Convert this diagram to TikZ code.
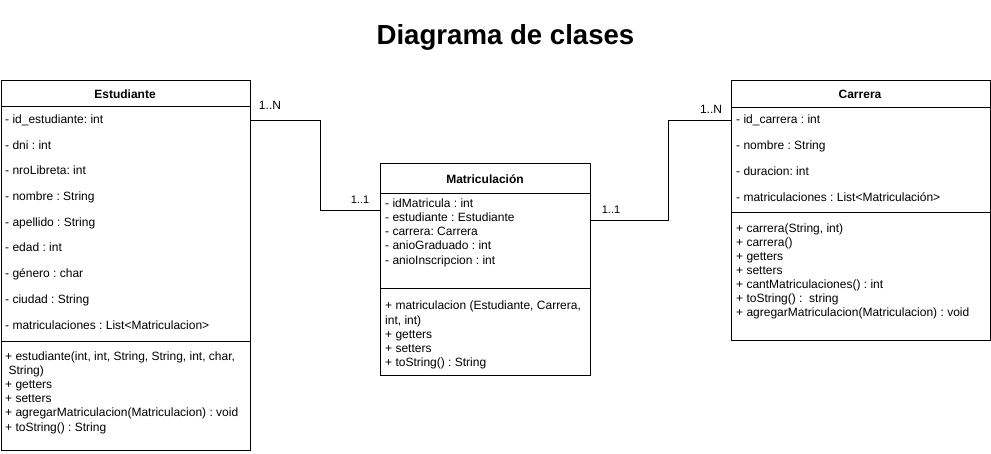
\documentclass[tikz,border=0pt]{standalone}
\usepackage{fontspec}
\setmainfont{Liberation Sans}
\usetikzlibrary{positioning}
\frenchspacing
\tikzset{
  classbox/.style={draw, line width=0.9pt, inner sep=0pt, anchor=north west},
  classname/.style={font=\fontsize{12}{14}\selectfont\bfseries, inner sep=0pt},
  member/.style={anchor=base west, inner sep=0pt, font=\fontsize{12}{14}\selectfont},
  mult/.style={inner sep=0pt, font=\fontsize{12}{14}\selectfont},
  link/.style={line width=0.9pt}
}
\begin{document}
\begin{tikzpicture}[x=1pt, y=-1pt]
\useasboundingbox (0,0) rectangle (991,453);
\node[font=\fontsize{27.6}{32}\selectfont\bfseries] (title) at (505.5,37) {Diagrama de clases};

% Estudiante
\node[classbox, minimum width=249.5pt, minimum height=370pt] (est) at (0.5,80) {};
\node[classname] (estname) at (125,94) {Estudiante};
\draw (0.5,106) -- (250,106);
\node[member] (ea1) at (5,123) {- id\_estudiante: int};
\node[member] (ea2) at (5,149) {- dni : int};
\node[member] (ea3) at (5,174) {- nroLibreta: int};
\node[member] (ea4) at (5,200) {- nombre : String};
\node[member] (ea5) at (5,226) {- apellido : String};
\node[member] (ea6) at (5,251) {- edad : int};
\node[member] (ea7) at (5,277) {- género : char};
\node[member] (ea8) at (5,303) {- ciudad : String};
\node[member] (ea9) at (5,329) {- matriculaciones : List<Matriculacion>};
\draw (0.5,341) -- (250,341);
\node[member] (em1) at (5,360) {+ estudiante(int, int, String, String, int, char,};
\node[member] (em2) at (5,374) {\ String)};
\node[member] (em3) at (5,388) {+ getters};
\node[member] (em4) at (5,402) {+ setters};
\node[member] (em5) at (5,416) {+ agregarMatriculacion(Matriculacion) : void};
\node[member] (em6) at (5,431) {+ toString() : String};

% Matriculacion
\node[classbox, minimum width=210pt, minimum height=212pt] (mat) at (380,163) {};
\node[classname] (matname) at (485,179) {Matriculación};
\draw (380,193) -- (590,193);
\node[member] (ma1) at (385,207) {- idMatricula : int};
\node[member] (ma2) at (385,221) {- estudiante : Estudiante};
\node[member] (ma3) at (385,235) {- carrera: Carrera};
\node[member] (ma4) at (385,249) {- anioGraduado : int};
\node[member] (ma5) at (385,264) {- anioInscripcion : int};
\draw (380,288) -- (590,288);
\node[member] (mm1) at (385,309) {+ matriculacion (Estudiante, Carrera,};
\node[member] (mm2) at (385,324) {int, int)};
\node[member] (mm3) at (385,338) {+ getters};
\node[member] (mm4) at (385,352) {+ setters};
\node[member] (mm5) at (385,366) {+ toString() : String};

% Carrera
\node[classbox, minimum width=259pt, minimum height=260pt] (car) at (731,80) {};
\node[classname] (carname) at (860,94) {Carrera};
\draw (731,107) -- (990,107);
\node[member] (ca1) at (736,123) {- id\_carrera : int};
\node[member] (ca2) at (736,149) {- nombre : String};
\node[member] (ca3) at (736,175) {- duracion: int};
\node[member] (ca4) at (736,201) {- matriculaciones : List<Matriculación>};
\draw (731,212) -- (990,212);
\node[member] (cm1) at (736,232) {+ carrera(String, int)};
\node[member] (cm2) at (736,246) {+ carrera()};
\node[member] (cm3) at (736,260) {+ getters};
\node[member] (cm4) at (736,274) {+ setters};
\node[member] (cm5) at (736,288) {+ cantMatriculaciones() : int};
\node[member] (cm6) at (736,302) {+ toString() : \ string};
\node[member] (cm7) at (736,316) {+ agregarMatriculacion(Matriculacion) : void};

% associations
\draw[link] ([yshift=-40pt]est.north east) -- ++(70,0) |- ([yshift=-47pt]mat.north west);
\draw[link] ([yshift=-57pt]mat.north east) -- ++(78,0) |- ([yshift=-40pt]car.north west);
\node[mult] (m1) at (270,105) {1..N};
\node[mult, font=\fontsize{11}{13}\selectfont] (m2) at (360,200) {1..1};
\node[mult, font=\fontsize{11}{13}\selectfont] (m3) at (611,210) {1..1};
\node[mult] (m4) at (711,109) {1..N};
\end{tikzpicture}
\end{document}
